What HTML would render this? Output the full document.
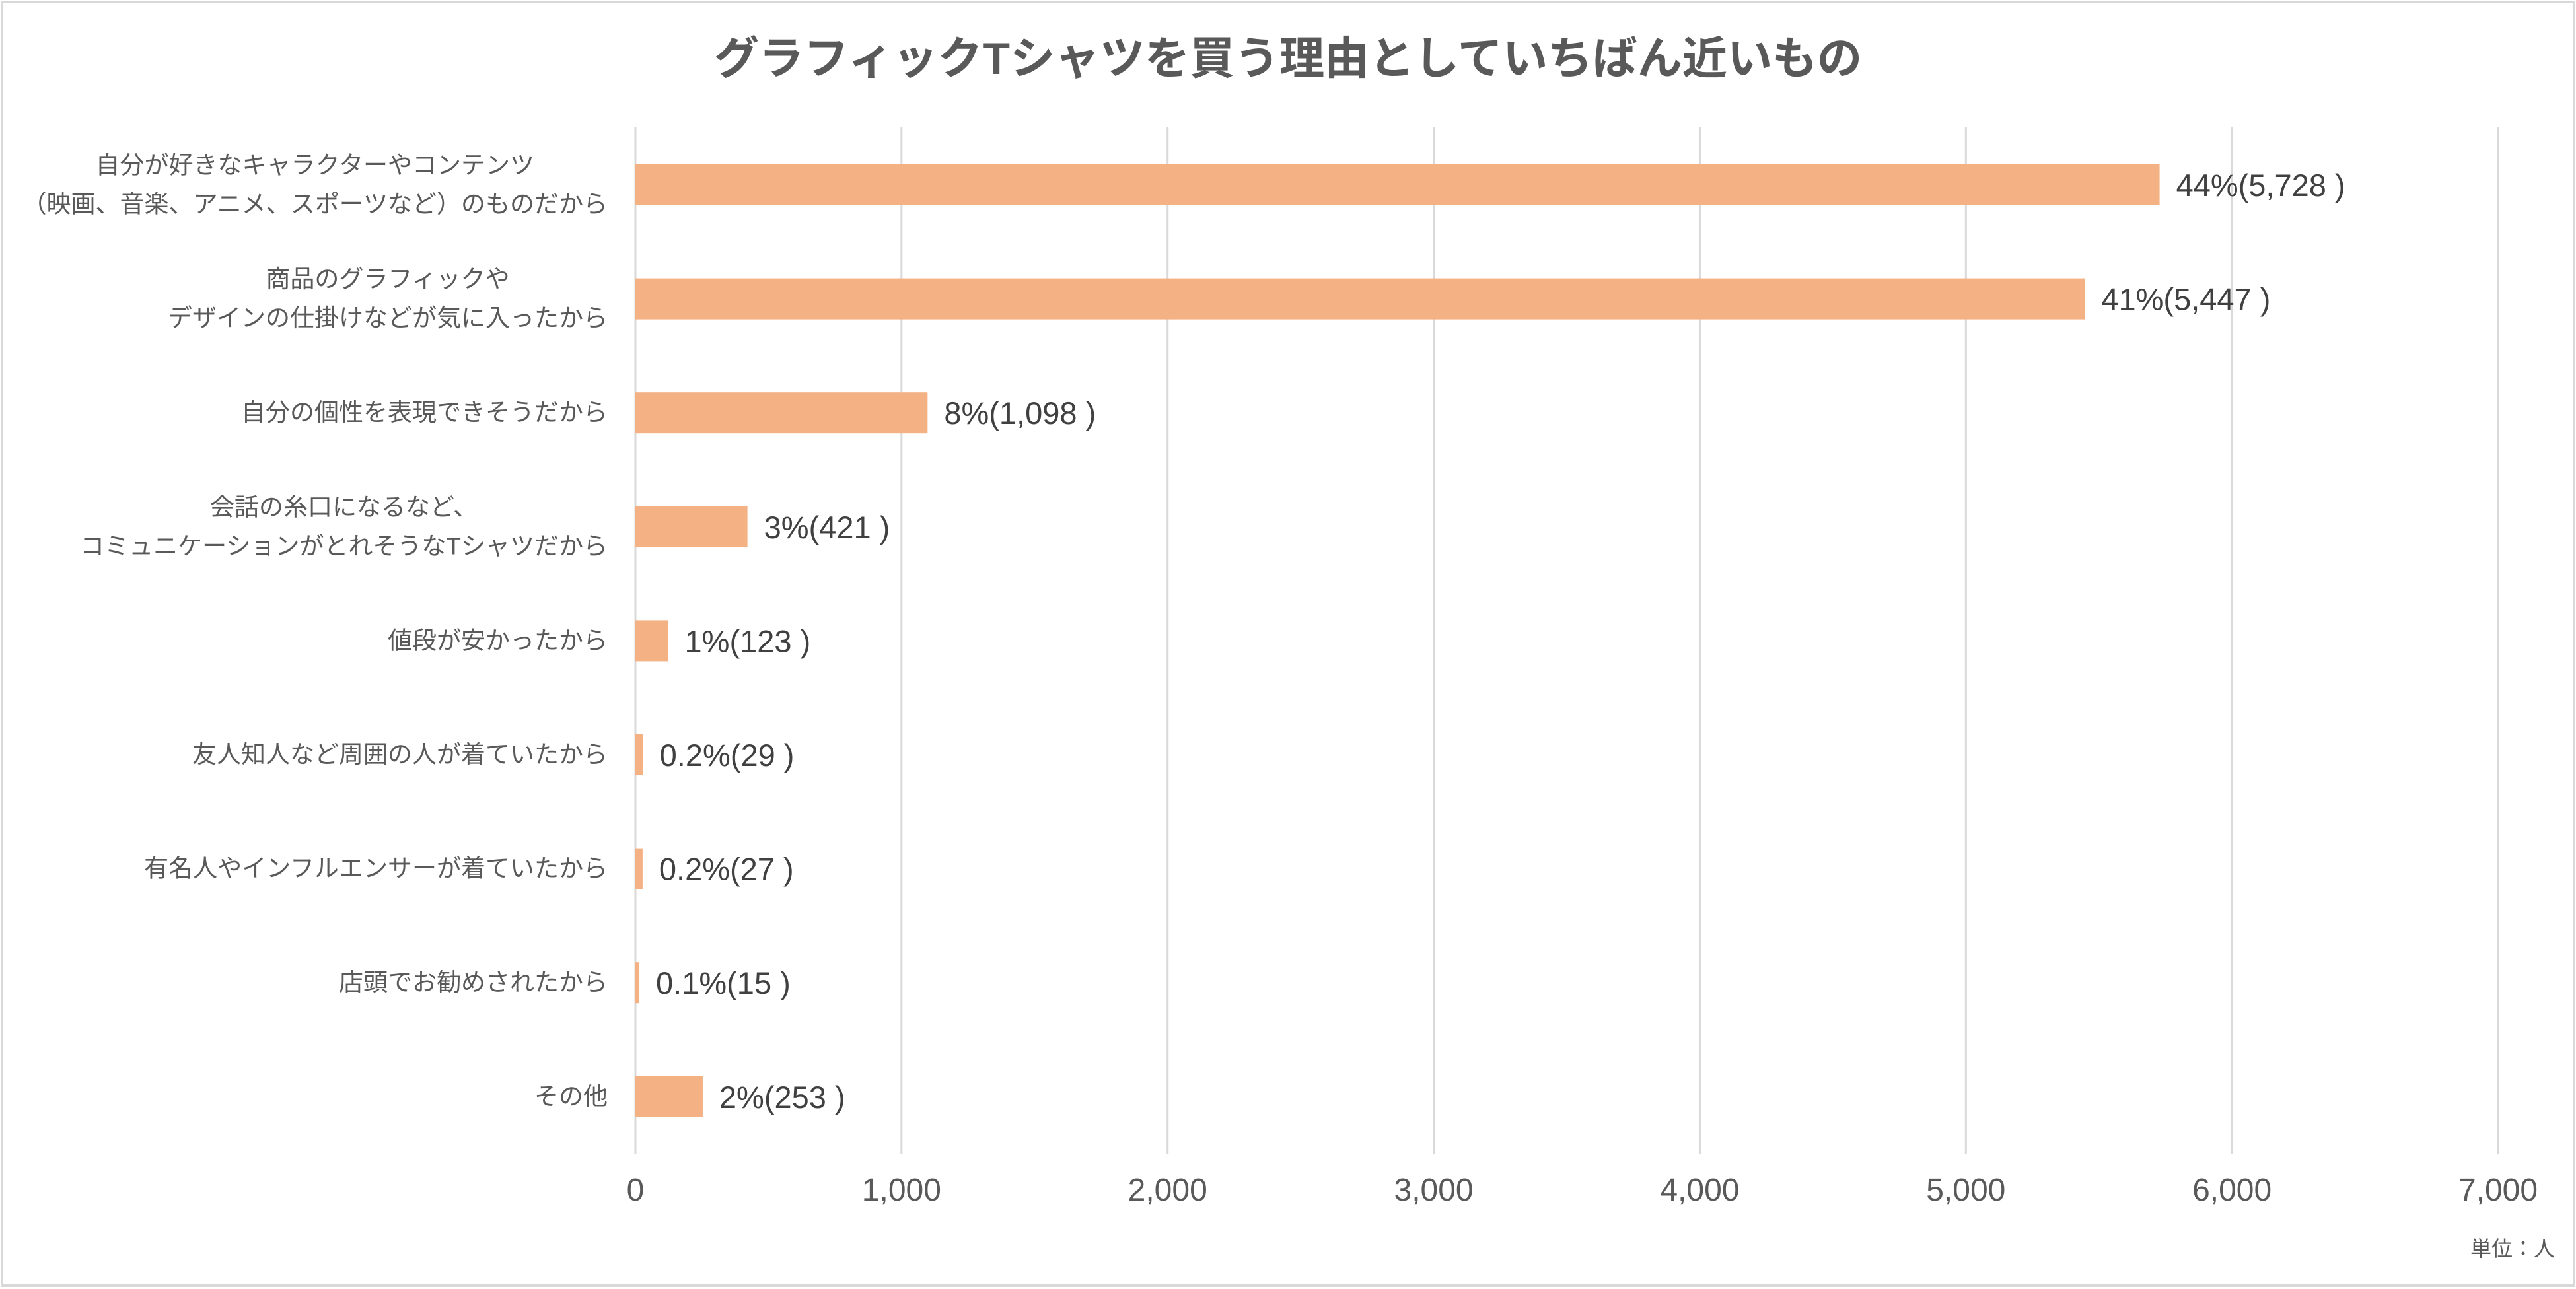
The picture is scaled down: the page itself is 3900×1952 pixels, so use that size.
<!DOCTYPE html>
<html><head><meta charset="utf-8"><style>
html,body{margin:0;padding:0;background:#fff;}
svg{display:block;}
text{font-family:"Liberation Sans","Noto Sans CJK JP",sans-serif;}
</style></head><body>
<svg id="chart" width="3900" height="1952" viewBox="0 0 3900 1952" xmlns="http://www.w3.org/2000/svg">
<rect x="3" y="3" width="3894" height="1944" fill="#fff" stroke="#d9d9d9" stroke-width="4"/>
<text x="1950" y="112" text-anchor="middle" font-size="68" font-weight="bold" fill="#595959">グラフィックTシャツを買う理由としていちばん近いもの</text>
<g id="grid"></g><g id="bars"></g><g id="cats"></g><g id="vals"></g><g id="ticks"></g>
<text x="3868" y="1902" text-anchor="end" font-size="32" fill="#595959">単位：人</text>
</svg>
<script>
const categories=[["自分が好きなキャラクターやコンテンツ","（映画、音楽、アニメ、スポーツなど）のものだから"],["商品のグラフィックや","デザインの仕掛けなどが気に入ったから"],["自分の個性を表現できそうだから"],["会話の糸口になるなど、","コミュニケーションがとれそうなTシャツだから"],["値段が安かったから"],["友人知人など周囲の人が着ていたから"],["有名人やインフルエンサーが着ていたから"],["店頭でお勧めされたから"],["その他"]];
const values=[5728,5447,1098,421,123,29,27,15,253];
const percents=["44%","41%","8%","3%","1%","0.2%","0.2%","0.1%","2%"];
const ticks=[0,1000,2000,3000,4000,5000,6000,7000];
const tickLabels=["0","1,000","2,000","3,000","4,000","5,000","6,000","7,000"];
const NS="http://www.w3.org/2000/svg";
const X0=962,X1=3782,XMAX=7000,Y0=193,Y1=1747,ROW0=280,STEP=172.6,BH=62;
const xs=v=>X0+(v/XMAX)*(X1-X0);
const yc=i=>ROW0+i*STEP;
function mk(tag,attrs,parent){const e=document.createElementNS(NS,tag);for(const k in attrs)e.setAttribute(k,attrs[k]);document.getElementById(parent).appendChild(e);return e;}
const fmt=n=>n.toLocaleString("en-US");
ticks.forEach((t,i)=>{
 const l=mk("line",{x1:xs(t),x2:xs(t),y1:Y0,y2:Y1,stroke:"#d9d9d9","stroke-width":3},"grid");
 
 
 const tx=mk("text",{x:xs(t),y:1818,"text-anchor":"middle","font-size":48,fill:"#595959"},"ticks");
 tx.textContent=tickLabels[i];
 
 
});
values.forEach((v,i)=>{
 const r=mk("rect",{x:X0,y:yc(i)-BH/2,width:xs(v)-X0,height:BH,fill:"#F4B183"},"bars");
 
 
 const t=mk("text",{x:xs(v)+25,y:yc(i)+17,"font-size":47,fill:"#404040"},"vals");
 t.textContent=percents[i]+"("+fmt(v)+" )";
 
 
 const lines=categories[i];
 const els=[];
 let maxW=0;
 lines.forEach((s,j)=>{
  const off=(j-(lines.length-1)/2)*59;
  const c=mk("text",{x:0,y:yc(i)+off+12,"text-anchor":"middle","font-size":37,fill:"#595959"},"cats");
  c.textContent=s;
  
  
  els.push(c);
  maxW=Math.max(maxW,c.getComputedTextLength());
 });
 els.forEach(c=>c.setAttribute("x",920-maxW/2));
});
</script>
</body></html>
